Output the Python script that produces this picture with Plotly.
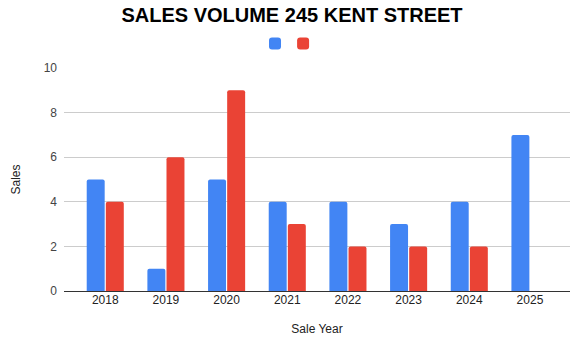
import plotly.graph_objects as go

years = ["2018", "2019", "2020", "2021", "2022", "2023", "2024", "2025"]
series_a = [5, 1, 5, 4, 4, 3, 4, 7]
series_b = [4, 6, 9, 3, 2, 2, 2, None]
y_ticks = [0, 2, 4, 6, 8, 10]

fig = go.Figure()
fig.add_trace(go.Bar(x=years, y=series_a, name="", marker_color="#4285F4",
                     marker_line_width=0, legend="legend"))
fig.add_trace(go.Bar(x=years, y=series_b, name="", marker_color="#EA4335",
                     marker_line_width=0, legend="legend2"))

font = "Liberation Sans, Arial, sans-serif"
leg_common = dict(yanchor="middle", y=1.11, xanchor="left", font=dict(size=12),
                  bgcolor="rgba(0,0,0,0)")
fig.update_layout(
    width=584, height=348,
    margin=dict(l=64, r=14, t=68, b=57),
    paper_bgcolor="white", plot_bgcolor="white",
    font=dict(family=font, size=12, color="#222222"),
    title=dict(text="<b>SALES VOLUME 245 KENT STREET</b>", x=0.5, xanchor="center",
               y=0.958, yanchor="middle", font=dict(family=font, size=20, color="#000000")),
    barmode="group", bargap=0.37, bargroupgap=0.06, barcornerradius=2,
    showlegend=True,
    legend=dict(x=0.3775, **leg_common),
    legend2=dict(x=0.433, **leg_common),
    xaxis=dict(type="category", range=[-0.68, 7.66], showgrid=False, ticks="",
               showline=False, tickfont=dict(size=12, color="#222222"),
               title=dict(text="Sale Year", font=dict(size=12, color="#222222"), standoff=18)),
    yaxis=dict(range=[0, 10], tickvals=y_ticks, showgrid=True, gridcolor="#cccccc",
               zeroline=True, zerolinecolor="#333333", zerolinewidth=1, ticks="",
               tickfont=dict(size=12, color="#444444"), ticklabelstandoff=6,
               title=dict(text="Sales", font=dict(size=12, color="#222222"), standoff=20)),
)

fig.write_html("out.html")
